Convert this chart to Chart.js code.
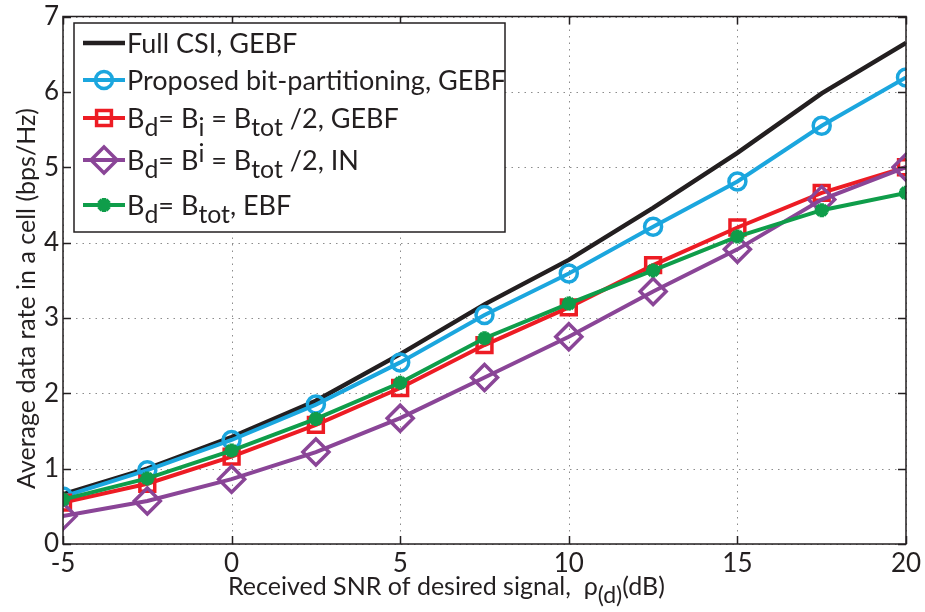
<!DOCTYPE html>
<html>
<head>
<meta charset="utf-8">
<script src="https://cdn.jsdelivr.net/npm/chart.js@4.4.1/dist/chart.umd.min.js"></script>
<style>
  html, body { margin: 0; padding: 0; background: #fff; }
  #wrap { width: 925px; height: 612px; }
</style>
</head>
<body>
<div id="wrap"><canvas id="c" width="925" height="612"></canvas></div>
<script>
// ── DATA ──────────────────────────────────────────────────────────
const snr      = [-5, -2.5, 0, 2.5, 5, 7.5, 10, 12.5, 15, 17.5, 20];
const fullCsi  = [0.66, 1.00, 1.42, 1.90, 2.52, 3.18, 3.77, 4.46, 5.19, 5.98, 6.65];
const proposed = [0.63, 0.98, 1.38, 1.85, 2.41, 3.04, 3.59, 4.21, 4.81, 5.55, 6.19];
const halfGebf = [0.55, 0.80, 1.16, 1.58, 2.07, 2.64, 3.14, 3.70, 4.20, 4.66, 5.00];
const halfIn   = [0.37, 0.57, 0.86, 1.22, 1.67, 2.21, 2.75, 3.35, 3.91, 4.57, 5.00];
const totEbf   = [0.59, 0.87, 1.24, 1.66, 2.14, 2.73, 3.19, 3.63, 4.08, 4.43, 4.66];

const xTicks = [-5, 0, 5, 10, 15, 20];
const yTicks = [0, 1, 2, 3, 4, 5, 6, 7];

// legend text pieces: [text, 'n' | 'sub' | 'sup']
const legendRows = [
  [['Full CSI, GEBF', 'n']],
  [['Proposed bit-partitioning, GEBF', 'n']],
  [['B', 'n'], ['d', 'sub'], ['= B', 'n'], ['i', 'sub'], [' = B', 'n'], ['tot', 'sub'], [' /2, GEBF', 'n']],
  [['B', 'n'], ['d', 'sub'], ['= B', 'n'], ['i', 'sup'], [' = B', 'n'], ['tot', 'sub'], [' /2, IN', 'n']],
  [['B', 'n'], ['d', 'sub'], ['= B', 'n'], ['tot', 'sub'], [', EBF', 'n']],
];
const xTitle = [['Received SNR of desired signal,  \u03c1', 'n'], ['(d)', 'sub'], ['(dB)', 'n']];
const yTitle = 'Average data rate in a cell (bps/Hz)';

// ── STYLE ─────────────────────────────────────────────────────────
const FONT = 'Lato, "Open Sans", sans-serif';
const INK = '#231f20';
const COLORS = ['#231f20', '#1ba6de', '#ed1c24', '#8a4597', '#0f9d4a'];

const series = [fullCsi, proposed, halfGebf, halfIn, totEbf];
const markers = [
  { pointStyle: false, radius: 0, borderWidth: 0, filled: false },
  { pointStyle: 'circle', radius: 8.5, borderWidth: 3.5, filled: false },
  { pointStyle: 'rect', radius: 10.5, borderWidth: 3.5, filled: false },
  { pointStyle: 'rectRot', radius: 13, borderWidth: 3.5, filled: false },
  { pointStyle: 'star', radius: 7, borderWidth: 4.5, filled: true },
];

function drawRich(ctx, parts, x, y, size) {
  let cx = x;
  parts.forEach(([t, mode]) => {
    const s = mode === 'n' ? size : size * 0.92;
    const dy = mode === 'sub' ? size * 0.33 : (mode === 'sup' ? -size * 0.25 : 0);
    ctx.font = `${s}px ${FONT}`;
    ctx.fillText(t, cx, y + dy);
    cx += ctx.measureText(t).width;
  });
  return cx;
}

// ── FRAME / GRID / LEGEND / TITLES PLUGIN ────────────────────────
const framePlugin = {
  id: 'frame',
  beforeDatasetsDraw(chart) {
    const { ctx, chartArea: a, scales } = chart;
    ctx.save();
    ctx.strokeStyle = '#8c8c8c';
    ctx.lineWidth = 1;
    ctx.setLineDash([1.5, 5]);
    ctx.beginPath();
    xTicks.forEach(v => {
      const px = Math.round(scales.x.getPixelForValue(v)) + 0.5;
      ctx.moveTo(px, a.top); ctx.lineTo(px, a.bottom);
    });
    yTicks.forEach(v => {
      const py = Math.round(scales.y.getPixelForValue(v)) + 0.5;
      ctx.moveTo(a.left, py); ctx.lineTo(a.right, py);
    });
    ctx.stroke();
    ctx.restore();
  },
  afterDatasetsDraw(chart) {
    const { ctx, chartArea: a, scales } = chart;
    ctx.save();
    ctx.strokeStyle = INK;
    ctx.lineWidth = 1.5;
    ctx.strokeRect(a.left, a.top, a.right - a.left, a.bottom - a.top);
    const tl = 8;
    ctx.beginPath();
    xTicks.forEach(v => {
      const px = Math.round(scales.x.getPixelForValue(v)) + 0.5;
      ctx.moveTo(px, a.bottom); ctx.lineTo(px, a.bottom - tl);
      ctx.moveTo(px, a.top); ctx.lineTo(px, a.top + tl);
    });
    yTicks.forEach(v => {
      const py = Math.round(scales.y.getPixelForValue(v)) + 0.5;
      ctx.moveTo(a.left, py); ctx.lineTo(a.left + tl, py);
      ctx.moveTo(a.right, py); ctx.lineTo(a.right - tl, py);
    });
    ctx.stroke();
    ctx.restore();
  },
  afterDraw(chart) {
    const { ctx } = chart;
    ctx.save();
    // legend box
    const lx = 74, ly = 23, lw = 431, lh = 209;
    ctx.fillStyle = '#fff';
    ctx.fillRect(lx, ly, lw, lh);
    ctx.strokeStyle = INK;
    ctx.lineWidth = 1.5;
    ctx.strokeRect(lx, ly, lw, lh);
    const rowY = [43, 80, 118, 160, 205];
    legendRows.forEach((parts, i) => {
      const y = rowY[i];
      ctx.strokeStyle = COLORS[i];
      ctx.lineWidth = i === 0 ? 4.5 : 4;
      ctx.beginPath();
      ctx.moveTo(83, y); ctx.lineTo(125, y);
      ctx.stroke();
      const m = markers[i];
      if (m.pointStyle) {
        ctx.lineWidth = m.borderWidth;
        ctx.fillStyle = m.filled ? COLORS[i] : 'rgba(0,0,0,0)';
        Chart.helpers.drawPoint(ctx, { pointStyle: m.pointStyle, radius: m.radius, borderWidth: m.borderWidth, rotation: 0 }, 104, y);
      }
      ctx.fillStyle = INK;
      ctx.textBaseline = 'middle';
      drawRich(ctx, parts, 127, y + 1, 27);
    });
    // x title
    ctx.fillStyle = INK;
    ctx.textBaseline = 'alphabetic';
    drawRich(ctx, xTitle, 228, 595, 25);
    // y title, anchored at its first letter, running upwards
    ctx.translate(35, 489);
    ctx.rotate(-Math.PI / 2);
    ctx.textAlign = 'left';
    ctx.font = `25px ${FONT}`;
    ctx.fillText(yTitle, 0, 0);
    ctx.restore();
  }
};

// ── CHART ────────────────────────────────────────────────────────
new Chart(document.getElementById('c').getContext('2d'), {
  type: 'line',
  data: {
    datasets: series.map((vals, i) => ({
      data: vals.map((v, j) => ({ x: snr[j], y: v })),
      borderColor: COLORS[i],
      backgroundColor: COLORS[i],
      borderWidth: i === 0 ? 4.5 : 4,
      pointStyle: markers[i].pointStyle,
      pointRadius: markers[i].radius,
      pointBorderWidth: markers[i].borderWidth,
      pointBackgroundColor: markers[i].filled ? COLORS[i] : 'rgba(0,0,0,0)',
      pointBorderColor: COLORS[i],
      tension: 0,
      order: series.length - i,
    }))
  },
  options: {
    responsive: false,
    animation: false,
    devicePixelRatio: 1,
    layout: { padding: { top: 10, right: 19, left: 0, bottom: 0 } },
    plugins: { legend: { display: false }, tooltip: { enabled: false } },
    scales: {
      x: {
        type: 'linear', min: -5, max: 20,
        afterFit: (s) => { s.height = 68; s.paddingLeft = 0; s.paddingRight = 0; },
        afterBuildTicks: (s) => { s.ticks = xTicks.map(v => ({ value: v })); },
        grid: { display: false, drawTicks: false },
        border: { display: false },
        ticks: { color: INK, font: { family: FONT, size: 26 }, padding: 4 },
      },
      y: {
        min: 0, max: 7,
        afterFit: (s) => { s.width = 63; s.paddingTop = 0; s.paddingBottom = 0; },
        afterBuildTicks: (s) => { s.ticks = yTicks.map(v => ({ value: v })); },
        grid: { display: false, drawTicks: false },
        border: { display: false },
        ticks: { color: INK, font: { family: FONT, size: 26 }, padding: 4 },
      }
    }
  },
  plugins: [framePlugin]
});
</script>
</body>
</html>
